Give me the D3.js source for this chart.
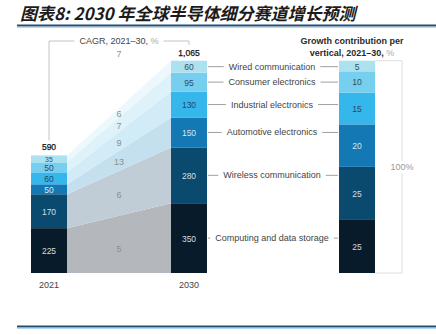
<!DOCTYPE html>
<html>
<head>
<meta charset="utf-8">
<script src="https://cdn.jsdelivr.net/npm/d3@7"></script>
<style>
  body { margin: 0; background: #fff; }
  svg { display: block; }
</style>
</head>
<body>
<div id="chart"></div>
<script>
// Segments from bottom to top
const categories = [
  "Computing and data storage",
  "Wireless communication",
  "Automotive electronics",
  "Industrial electronics",
  "Consumer electronics",
  "Wired communication"
];
const years = [2021, 2030];
const value2021 = [225, 170, 50, 60, 50, 35];
const value2030 = [350, 280, 150, 130, 95, 60];
const cagr = [5, 6, 13, 9, 7, 6];
const totalCagr = 7;
const contribution = [25, 25, 20, 15, 10, 5];

const barColors = ["#071b2b", "#0a4a6e", "#1378b4", "#35b7ec", "#77cfef", "#ace2ef"];
const bandColors = ["#b4b7bc", "#c0cdd6", "#c4e0ee", "#d1ebf7", "#def2fa", "#ecf8fc"];
const labelColors = ["#d6dce1", "#d6dce1", "#d8e6ef", "#24495e", "#2e4d5e", "#34505e"];

const W = 436, H = 335;
const font = "'Liberation Sans', Arial, sans-serif";

const svg = d3.select("#chart").append("svg")
  .attr("width", W)
  .attr("height", H)
  .style("font-family", font);

// Title and rules
svg.append("text")
  .attr("x", 20)
  .attr("y", 20)
  .attr("font-family", "'Noto Sans CJK SC', sans-serif")
  .attr("font-size", 17)
  .attr("font-weight", 700)
  .attr("font-style", "italic")
  .attr("fill", "#1b1b1b")
  .text("图表8: 2030 年全球半导体细分赛道增长预测");

[25.5, 326.5].forEach(y => {
  svg.append("line").attr("x1", 17).attr("x2", W).attr("y1", y).attr("y2", y)
    .attr("stroke", "#1d4e78").attr("stroke-width", 2);
  svg.append("line").attr("x1", 17).attr("x2", W).attr("y1", y + 1.8).attr("y2", y + 1.8)
    .attr("stroke", "#a9cce6").attr("stroke-width", 1);
});

// Scales
const barW = 36;
const x = d3.scaleLinear().domain(years).range([49, 189]);
const y = d3.scaleLinear().domain([0, 1065]).range([273, 60.7]);
const yPct = d3.scaleLinear().domain([0, 100]).range([273, 60.7]);
const xRight = 357;

function stackUp(vals) {
  let acc = 0;
  return vals.map(v => { const s = { y0: acc, y1: acc + v, v }; acc += v; return s; });
}
const s2021 = stackUp(value2021);
const s2030 = stackUp(value2030);
const sPct = stackUp(contribution);

// Flow bands between the two bars
const band = d3.area()
  .x(d => d.x)
  .y0(d => y(d.y0))
  .y1(d => y(d.y1));

const bandG = svg.append("g");
categories.forEach((c, i) => {
  bandG.append("path")
    .attr("d", band([
      { x: x(2021) + barW / 2, y0: s2021[i].y0, y1: s2021[i].y1 },
      { x: x(2030) - barW / 2, y0: s2030[i].y0, y1: s2030[i].y1 }
    ]))
    .attr("fill", bandColors[i]);

  // CAGR in the middle of each band
  const mid = (s2021[i].y0 + s2021[i].y1 + s2030[i].y0 + s2030[i].y1) / 4;
  bandG.append("text")
    .attr("x", (x(2021) + x(2030)) / 2)
    .attr("y", y(mid) + (i === 0 ? 5 : 1.5))
    .attr("text-anchor", "middle")
    .attr("dominant-baseline", "central")
    .attr("font-size", 9)
    .attr("fill", "#8a8f94")
    .text(cagr[i]);
});

// Stacked bars
function drawBar(stack, cx, scale) {
  const g = svg.append("g");
  g.selectAll("rect")
    .data(stack)
    .join("rect")
    .attr("x", cx - barW / 2)
    .attr("width", barW)
    .attr("y", d => scale(d.y1))
    .attr("height", d => scale(d.y0) - scale(d.y1))
    .attr("fill", (d, i) => barColors[i]);
  g.selectAll("text")
    .data(stack)
    .join("text")
    .attr("x", cx)
    .attr("y", d => (scale(d.y0) + scale(d.y1)) / 2 + 0.5)
    .attr("text-anchor", "middle")
    .attr("dominant-baseline", "central")
    .attr("font-size", d => Math.min(8.5, scale(d.y0) - scale(d.y1)))
    .attr("fill", (d, i) => labelColors[i])
    .text(d => d.v);
}
drawBar(s2021, x(2021), y);
drawBar(s2030, x(2030), y);
drawBar(sPct, xRight, yPct);

// Totals above bars
[[2021, value2021], [2030, value2030]].forEach(([yr, vals]) => {
  const tot = d3.sum(vals);
  svg.append("text")
    .attr("x", x(yr))
    .attr("y", y(tot) - 5)
    .attr("text-anchor", "middle")
    .attr("font-size", 8.5)
    .attr("fill", "#111")
    .attr("stroke", "#111")
    .attr("stroke-width", 0.25)
    .text(d3.format(",")(tot));
});

// Year labels
years.forEach(yr => {
  svg.append("text")
    .attr("x", x(yr))
    .attr("y", 288)
    .attr("text-anchor", "middle")
    .attr("font-size", 9)
    .attr("fill", "#444")
    .text(yr);
});

// CAGR header with bracket
const cagrX = (x(2021) + x(2030)) / 2;
const head = svg.append("text")
  .attr("x", cagrX)
  .attr("y", 44)
  .attr("text-anchor", "middle")
  .attr("font-size", 9)
  .attr("fill", "#444");
head.append("tspan").text("CAGR, 2021–30, ");
head.append("tspan").attr("fill", "#aaa").text("%");
const hw = head.node().getComputedTextLength();
svg.append("path")
  .attr("d", `M${x(2021)},${y(d3.sum(value2021)) - 15} V41 H${cagrX - hw / 2 - 5}`
    + ` M${cagrX + hw / 2 + 5},41 H${x(2030)} V45`)
  .attr("fill", "none")
  .attr("stroke", "#b5b5b5")
  .attr("stroke-width", 0.8);
svg.append("text")
  .attr("x", cagrX)
  .attr("y", 57)
  .attr("text-anchor", "middle")
  .attr("font-size", 9)
  .attr("fill", "#8a8f94")
  .text(totalCagr);

// Category labels with leader lines
const labelX = 272;
categories.forEach((c, i) => {
  const cy = y((s2030[i].y0 + s2030[i].y1) / 2);
  const t = svg.append("text")
    .attr("x", labelX)
    .attr("y", cy)
    .attr("text-anchor", "middle")
    .attr("dominant-baseline", "central")
    .attr("font-size", 9)
    .attr("fill", "#444")
    .text(c);
  const tw = t.node().getComputedTextLength();
  svg.append("path")
    .attr("d", `M${x(2030) + barW / 2 + 1},${cy} H${labelX - tw / 2 - 5}`
      + ` M${labelX + tw / 2 + 5},${cy} H${xRight - barW / 2 - 1}`)
    .attr("stroke", "#888")
    .attr("stroke-width", 0.8);
});

// Growth contribution header
const gh = svg.append("text")
  .attr("text-anchor", "middle")
  .attr("font-size", 9)
  .attr("font-weight", 700)
  .attr("fill", "#2a2a2a");
gh.append("tspan").attr("x", 352).attr("y", 44).text("Growth contribution per");
const gh2 = gh.append("tspan").attr("x", 352).attr("y", 56);
gh2.append("tspan").text("vertical, 2021–30, ");
gh2.append("tspan").attr("fill", "#aaa").attr("font-weight", 400).text("%");

// 100% bracket box
const boxR = 402;
svg.append("path")
  .attr("d", `M${xRight + barW / 2},${yPct(100)} H${boxR} V${yPct(0)} H${xRight + barW / 2}`)
  .attr("fill", "none")
  .attr("stroke", "#d6d6d6")
  .attr("stroke-width", 0.8);
svg.append("rect")
  .attr("x", boxR - 12).attr("y", yPct(50) - 6)
  .attr("width", 24).attr("height", 12)
  .attr("fill", "#fff");
svg.append("text")
  .attr("x", boxR)
  .attr("y", yPct(50))
  .attr("text-anchor", "middle")
  .attr("dominant-baseline", "central")
  .attr("font-size", 9)
  .attr("fill", "#999")
  .text("100%");
</script>
</body>
</html>
